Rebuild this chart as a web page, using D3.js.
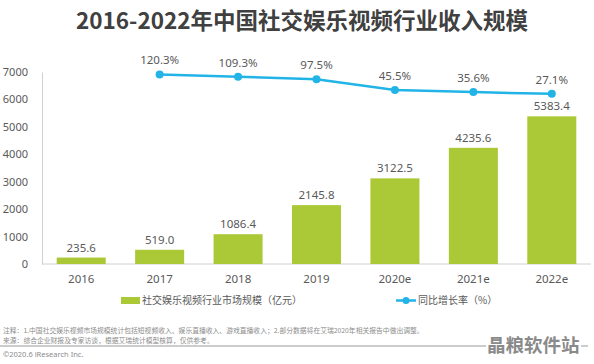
<!DOCTYPE html>
<html>
<head>
<meta charset="utf-8">
<script src="https://cdn.jsdelivr.net/npm/d3@7"></script>
<style>
  body { margin: 0; background: #fff; }
  svg { display: block; font-family: "Noto Sans CJK SC", "Noto Sans", sans-serif; }
</style>
</head>
<body>
<div id="chart"></div>
<script>
// data
const years = ["2016", "2017", "2018", "2019", "2020e", "2021e", "2022e"];
const revenue = [235.6, 519.0, 1086.4, 2145.8, 3122.5, 4235.6, 5383.4];
const growth = [null, 120.3, 109.3, 97.5, 45.5, 35.6, 27.1];
const yTicks = [0, 1000, 2000, 3000, 4000, 5000, 6000, 7000];
const noteLines = [
  "注释：1.中国社交娱乐视频市场规模统计包括短视频收入、娱乐直播收入、游戏直播收入；2.部分数据将在艾瑞2020年相关报告中做出调整。",
  "来源：综合企业财报及专家访谈，根据艾瑞统计模型核算，仅供参考。"
];

const width = 594, height = 364;
const barColor = "#abc936", lineColor = "#22b4e6", textColor = "#595959";
const numFont = "'Noto Sans', sans-serif";

const svg = d3.select("#chart").append("svg")
  .attr("width", width)
  .attr("height", height);

// title
svg.append("text")
  .attr("x", 302).attr("y", 29)
  .attr("text-anchor", "middle")
  .attr("font-size", "22.5px")
  .attr("font-weight", "bold")
  .attr("fill", "#404040")
  .text("2016-2022年中国社交娱乐视频行业收入规模");

const x = d3.scaleBand()
  .domain(years)
  .range([42, 591])
  .paddingInner(0.375)
  .paddingOuter(0.1875);

const y = d3.scaleLinear().domain([0, 7000]).range([264, 72]);
// hidden right axis for the growth rate
const y2 = d3.scaleLinear().domain([0, 140]).range([99.5, 70.4]);

// y axis
const yAxis = svg.append("g")
  .attr("transform", "translate(42,0)")
  .call(d3.axisLeft(y).tickValues(yTicks).tickSize(0).tickPadding(14).tickFormat(d3.format("d")));
yAxis.select(".domain").attr("stroke", "#d0d0d0");
yAxis.selectAll("text").attr("font-size", "11px").attr("fill", textColor)
  .attr("font-family", numFont);

// x axis
const xAxis = svg.append("g")
  .attr("transform", "translate(0,264)")
  .call(d3.axisBottom(x).tickSize(0).tickPadding(11));
xAxis.select(".domain").attr("stroke", "#d0d0d0").attr("d", "M42,0H591");
xAxis.selectAll("text").attr("font-size", "11.5px").attr("fill", textColor)
  .attr("font-family", numFont);

// bars
svg.append("g").selectAll("rect")
  .data(revenue)
  .join("rect")
  .attr("x", (d, i) => x(years[i]))
  .attr("y", d => y(d))
  .attr("width", x.bandwidth())
  .attr("height", d => y(0) - y(d))
  .attr("fill", barColor);

svg.append("g").selectAll("text")
  .data(revenue)
  .join("text")
  .attr("x", (d, i) => x(years[i]) + x.bandwidth() / 2)
  .attr("y", d => y(d) - 6)
  .attr("text-anchor", "middle")
  .attr("font-size", "11.5px")
  .attr("font-family", numFont)
  .attr("fill", textColor)
  .text(d => d.toFixed(1));

// growth line
const pts = growth.map((g, i) => ({ g, year: years[i] })).filter(d => d.g != null);
const line = d3.line()
  .x(d => x(d.year) + x.bandwidth() / 2)
  .y(d => y2(d.g));

svg.append("path")
  .datum(pts)
  .attr("d", line)
  .attr("fill", "none")
  .attr("stroke", lineColor)
  .attr("stroke-width", 2.5);

svg.append("g").selectAll("circle")
  .data(pts)
  .join("circle")
  .attr("cx", d => x(d.year) + x.bandwidth() / 2)
  .attr("cy", d => y2(d.g))
  .attr("r", 4)
  .attr("fill", lineColor);

svg.append("g").selectAll("text")
  .data(pts)
  .join("text")
  .attr("x", d => x(d.year) + x.bandwidth() / 2)
  .attr("y", d => y2(d.g) - 10)
  .attr("text-anchor", "middle")
  .attr("font-size", "11.5px")
  .attr("font-family", numFont)
  .attr("fill", textColor)
  .text(d => d.g.toFixed(1) + "%");

// legend
const legend = svg.append("g").attr("font-size", "10px").attr("fill", textColor);
legend.append("rect").attr("x", 121).attr("y", 297).attr("width", 19).attr("height", 7).attr("fill", barColor);
legend.append("text").attr("x", 142).attr("y", 304).text("社交娱乐视频行业市场规模（亿元）");
legend.append("line").attr("x1", 396).attr("x2", 416).attr("y1", 300.5).attr("y2", 300.5)
  .attr("stroke", lineColor).attr("stroke-width", 2.5);
legend.append("circle").attr("cx", 406).attr("cy", 300.5).attr("r", 3.5).attr("fill", lineColor);
legend.append("text").attr("x", 418).attr("y", 304).text("同比增长率（%）");

// notes
svg.append("g").selectAll("text")
  .data(noteLines)
  .join("text")
  .attr("x", 3)
  .attr("y", (d, i) => 333 + i * 9.5)
  .attr("font-size", "6.8px")
  .attr("fill", "#8c8c8c")
  .text(d => d);

svg.append("line").attr("x1", 0).attr("x2", 486).attr("y1", 346).attr("y2", 346)
  .attr("stroke", "#999").attr("stroke-width", 1);
svg.append("text").attr("x", 3).attr("y", 357)
  .attr("font-size", "7.5px").attr("fill", "#8c8c8c")
  .attr("font-family", numFont)
  .text("©2020.6 iResearch Inc.");

// watermark
svg.append("text").attr("x", 487).attr("y", 352)
  .attr("font-size", "18.5px").attr("font-weight", "bold").attr("fill", "#8a8a8a")
  .text("晶粮软件站");
svg.append("line").attr("x1", 581).attr("x2", 588).attr("y1", 346).attr("y2", 346)
  .attr("stroke", "#999").attr("stroke-width", 1);
</script>
</body>
</html>
